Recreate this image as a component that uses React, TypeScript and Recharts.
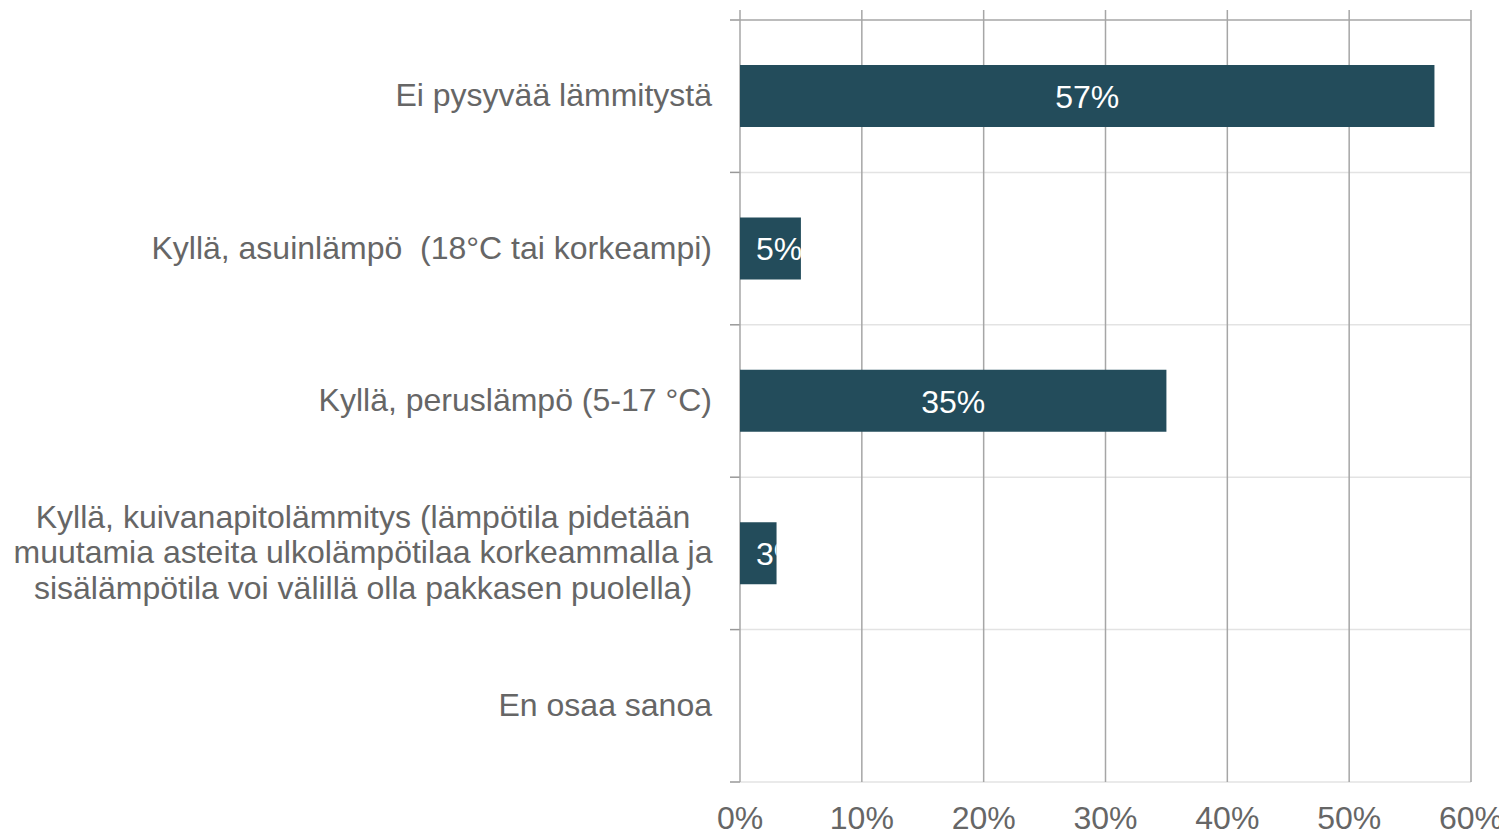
import React from "react";
import { BarChart, Bar, XAxis, YAxis, CartesianGrid, LabelList } from "recharts";

const categories = [
  "Ei pysyvää lämmitystä",
  "Kyllä, asuinlämpö  (18°C tai korkeampi)",
  "Kyllä, peruslämpö (5-17 °C)",
  "Kyllä, kuivanapitolämmitys (lämpötila pidetään\nmuutamia asteita ulkolämpötilaa korkeammalla ja\nsisälämpötila voi välillä olla pakkasen puolella)",
  "En osaa sanoa",
];
const values = [57, 5, 35, 3, 0];
const xTicks = [0, 10, 20, 30, 40, 50, 60];

const data = categories.map((name, i) => ({ name, value: values[i] }));

const FONT = "'Liberation Sans', Arial, sans-serif";
const FS = 32;
const TEXT = "#666666";
const BAR = "#234C5B";
const MARGIN = { top: 12, right: 36, bottom: 12, left: 0 };
const Y_AXIS_W = 732;

// band boundaries of the category axis, derived from the plot offset
const boundaryGen = (which: "all" | "top" | "rest") => (args: any) => {
  const off = args?.offset ?? {};
  const top = off.top ?? MARGIN.top;
  const h = off.height ?? 762;
  const n = categories.length;
  const pts = Array.from({ length: n + 1 }, (_, i) => top + (i * h) / n);
  if (which === "top") return [pts[0]];
  if (which === "rest") return pts.slice(1);
  return pts;
};

const YTick = (props: any) => {
  const { x, y, payload } = props;
  const lines = String(payload.value).split("\n");
  if (lines.length === 1) {
    return (
      <text x={x - 28} y={y + 10} textAnchor="end" fill={TEXT} fontSize={FS} fontFamily={FONT} style={{ whiteSpace: "pre" }}>
        {lines[0]}
      </text>
    );
  }
  const lh = 35.5;
  const start = -((lines.length - 1) / 2) * lh;
  return (
    <text x={x - 377} y={y} textAnchor="middle" fill={TEXT} fontSize={FS} fontFamily={FONT}>
      {lines.map((l, i) => (
        <tspan key={i} x={x - 377} y={y + start + i * lh + 10}>
          {l}
        </tspan>
      ))}
    </text>
  );
};

const XTick = (props: any) => {
  const { x, y, payload } = props;
  return (
    <text x={x} y={y + 47} textAnchor="middle" fill={TEXT} fontSize={FS} fontFamily={FONT}>
      {payload.value}%
    </text>
  );
};

const BarLabel = (props: any) => {
  const { x, y, width, height, value, index } = props;
  if (!value) return null;
  const txt = `${value}%`;
  const w = (String(value).length * 0.556 + 0.889) * FS;
  const left = Math.max(x + width / 2 - w / 2, x + 16);
  const id = `clip-lbl-${index}`;
  return (
    <g>
      <defs>
        <clipPath id={id}>
          <rect x={x} y={y} width={width} height={height} />
        </clipPath>
      </defs>
      <text
        x={left}
        y={y + height / 2 + 12}
        textAnchor="start"
        fill="#ffffff"
        fontSize={FS}
        fontFamily={FONT}
        clipPath={`url(#${id})`}
      >
        {txt}
      </text>
    </g>
  );
};

export default function App() {
  const W = 1499;
  const H = 826;
  const plotH = H - MARGIN.top - MARGIN.bottom - 40;
  return (
    <BarChart width={W} height={H} data={data} layout="vertical" margin={MARGIN}>
      <CartesianGrid
        horizontal
        vertical={false}
        stroke="#e3e3e3"
        strokeWidth={1.5}
        horizontalCoordinatesGenerator={boundaryGen("rest")}
      />
      <CartesianGrid
        horizontal
        vertical={false}
        stroke="#a6a6a6"
        strokeWidth={1.5}
        horizontalCoordinatesGenerator={boundaryGen("top")}
      />
      <CartesianGrid
        horizontal
        vertical={false}
        stroke="#999999"
        strokeWidth={1.5}
        x={Y_AXIS_W - 10}
        width={10}
        horizontalCoordinatesGenerator={boundaryGen("all")}
      />
      <CartesianGrid
        horizontal={false}
        vertical
        stroke="#a6a6a6"
        strokeWidth={1.5}
        y={MARGIN.top - 10}
        height={plotH + 10}
      />
      <XAxis
        type="number"
        domain={[0, 60]}
        ticks={xTicks}
        tickLine={false}
        axisLine={false}
        tickSize={0}
        tickMargin={0}
        height={40}
        tick={<XTick />}
        interval={0}
      />
      <YAxis
        type="category"
        dataKey="name"
        width={Y_AXIS_W}
        tickLine={false}
        axisLine={false}
        tickSize={0}
        tickMargin={0}
        tick={<YTick />}
        interval={0}
      />
      <Bar dataKey="value" fill={BAR} barSize={62} isAnimationActive={false}>
        <LabelList dataKey="value" content={<BarLabel />} />
      </Bar>
    </BarChart>
  );
}
